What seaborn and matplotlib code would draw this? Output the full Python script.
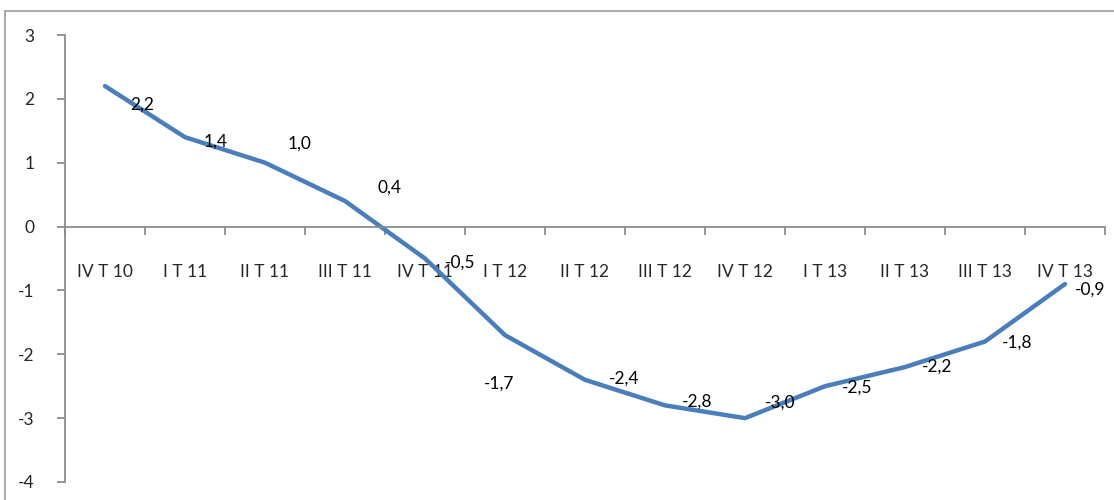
import matplotlib
matplotlib.use("Agg")
import matplotlib.pyplot as plt
import matplotlib.patches as mpatches
import numpy as np
import pandas as pd
import seaborn as sns

quarters = ["IV T 10", "I T 11", "II T 11", "III T 11", "IV T 11", "I T 12",
            "II T 12", "III T 12", "IV T 12", "I T 13", "II T 13", "III T 13",
            "IV T 13"]
values = [2.2, 1.4, 1.0, 0.4, -0.5, -1.7, -2.4, -2.8, -3.0, -2.5, -2.2, -1.8, -0.9]

# label offsets in points (dx, dy) relative to each data point
label_offsets = [(27, -13), (22, -3), (25, 14), (32, 10), (25, -3), (-4, -35),
                 (28, 1), (23, 3), (25, 11), (23, -1), (23, 0), (23, -1), (18, -4)]

sns.set_style("white")
plt.rcParams["font.family"] = ["Lato", "DejaVu Sans"]

df = pd.DataFrame({"quarter": quarters, "value": values})
df["pos"] = np.arange(len(quarters))

fig = plt.figure(figsize=(11.14, 5.0), dpi=100)
ax = fig.add_axes([65 / 1114, 1 - 482 / 500, (1105 - 65) / 1114, (482 - 35) / 500])

# outer chart frame
frame = mpatches.Rectangle((5 / 1114, -0.2), 1.2, 1.2 - 11 / 500,
                           transform=fig.transFigure, fill=False,
                           edgecolor="#9a9a9a", linewidth=1.2, zorder=0)
fig.patches.append(frame)

sns.lineplot(data=df, x="pos", y="value", ax=ax, color="#4A7EBB",
             linewidth=3.2, sort=False)

for x, v, (dx, dy) in zip(df["pos"], values, label_offsets):
    ax.annotate(f"{v:.1f}".replace(".", ","), (x, v), xytext=(dx, dy),
                textcoords="offset points", ha="center", va="center",
                fontsize=12.5, color="black")

ax.set_xlim(-0.5, len(quarters) - 0.5)
ax.set_ylim(-4, 3)
ax.set_yticks(range(-4, 4))
ax.set_yticklabels([str(t) for t in range(-4, 4)], fontsize=12.5)

ax.spines["top"].set_visible(False)
ax.spines["right"].set_visible(False)
ax.spines["bottom"].set_position(("data", 0))
for s in ("left", "bottom"):
    ax.spines[s].set_color("#8c8c8c")
    ax.spines[s].set_linewidth(1.3)

ax.set_xticks(df["pos"])
ax.set_xticklabels(quarters, fontsize=12.5)
ax.set_xticks(np.arange(-0.5, len(quarters), 1.0), minor=True)
ax.tick_params(axis="x", which="major", bottom=True, length=0, pad=27)
ax.tick_params(axis="x", which="minor", bottom=True, length=6, color="#8c8c8c",
               width=1.3, direction="out")
ax.tick_params(axis="y", which="major", left=True, length=6, color="#8c8c8c",
               width=1.3, direction="out", pad=16)

ax.set_xlabel("")
ax.set_ylabel("")
ax.grid(False)

fig.savefig("out.png", dpi=100)
